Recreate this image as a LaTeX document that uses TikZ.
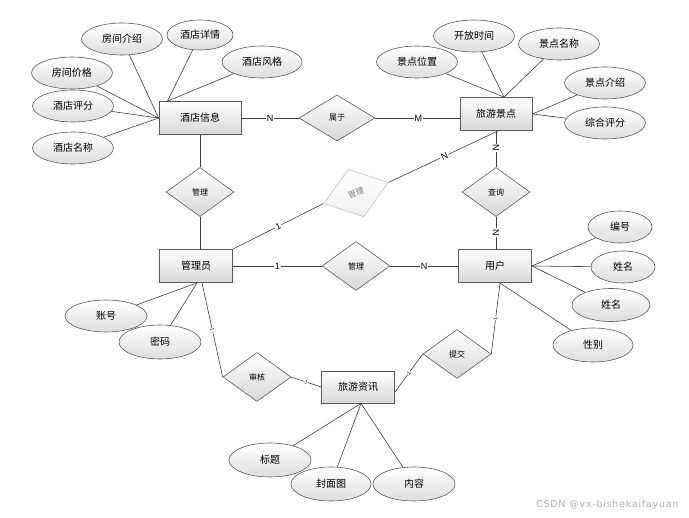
\documentclass[tikz,border=0pt]{standalone}
\usepackage{fontspec}
\setmainfont{Liberation Sans}
\newfontfamily\cjk{Noto Sans CJK SC}
\newfontfamily\markfont[LetterSpace=8]{DejaVu Sans}
\usepackage{xcolor}
\definecolor{Erline}{HTML}{404040}
\definecolor{Erborder}{HTML}{5A5A5A}
\definecolor{Erfill}{HTML}{D8D8D8}
\usetikzlibrary{shapes.geometric}
\tikzstyle{entity} = [
    rectangle,
    draw=Erborder,
    line width=0.9pt,
    top color=white,
    bottom color=Erfill,
    minimum width=73pt,
    minimum height=33pt,
    font=\cjk\fontsize{10}{10}\selectfont
]
\tikzstyle{attr} = [
    ellipse,
    draw=Erborder,
    line width=0.6pt,
    top color=white,
    bottom color=Erfill!85,
    minimum width=81pt,
    minimum height=32pt,
    inner sep=0pt,
    font=\cjk\fontsize{10}{10}\selectfont
]
\tikzstyle{relation} = [
    diamond,
    aspect=1.4,
    draw=Erborder,
    line width=0.6pt,
    top color=white,
    bottom color=Erfill,
    minimum width=68pt,
    minimum height=49pt,
    inner sep=0pt,
    font=\cjk\fontsize{8}{8}\selectfont
]
\tikzstyle{link} = [draw=Erline, line width=0.6pt]
\tikzstyle{card} = [fill=white, inner sep=1pt, sloped, font=\fontsize{9}{9}\selectfont]
\tikzstyle{tick} = [fill=white, inner sep=0.4pt, sloped, font=\fontsize{5}{5}\selectfont]

\begin{document}
\begin{tikzpicture}[x=1pt, y=-1pt]
    \useasboundingbox (0,0) rectangle (689,518);
    % Hotel
    \node[entity, minimum width=82pt] (hotel) at (200,118) {酒店信息};
    \node[attr] (roomintro) at (122,39) {房间介绍};
    \node[attr, minimum width=66pt, minimum height=30pt] (hoteldetail) at (200,35) {酒店详情};
    \node[attr, minimum width=80pt] (hotelstyle) at (262,62) {酒店风格};
    \node[attr] (roomprice) at (72,73) {房间价格};
    \node[attr] (hotelscore) at (73,106) {酒店评分};
    \node[attr] (hotelname) at (73,148) {酒店名称};
    \draw[link] (roomintro) -- (hotel.west);
    \draw[link] (roomprice) -- (hotel.west);
    \draw[link] (hotelscore) -- (hotel.west);
    \draw[link] (hotelname) -- (hotel.west);
    \draw[link] (hoteldetail) -- ([xshift=9pt]hotel.north west);
    \draw[link] (hotelstyle) -- ([xshift=9pt]hotel.north west);
    % Scenic spot
    \node[entity, minimum width=72pt] (scenic) at (496,114) {旅游景点};
    \node[attr] (opentime) at (474,36) {开放时间};
    \node[attr] (scenicname) at (559,44) {景点名称};
    \node[attr] (scenicpos) at (417,62) {景点位置};
    \node[attr] (scenicintro) at (605,83) {景点介绍};
    \node[attr] (totalscore) at (605,123) {综合评分};
    \draw[link] (opentime) -- ([xshift=8pt]scenic.north);
    \draw[link] (scenicname) -- ([xshift=8pt]scenic.north);
    \draw[link] (scenicpos) -- ([xshift=8pt]scenic.north);
    \draw[link] (scenicintro) -- (scenic.east);
    \draw[link] (totalscore) -- (scenic.east);
    % Hotel belongs to scenic spot
    \node[relation, minimum width=76pt, minimum height=46pt] (belong) at (337,118) {属于};
    \draw[link] (hotel.east) -- (belong.west) node[card, pos=0.5]{N};
    \draw[link] (belong.east) -- (scenic.west |- belong.east) node[card, pos=0.51]{M};
    % Administrator
    \node[entity] (admin) at (196,266) {管理员};
    \node[relation] (manageh) at (200,192) {管理};
    \draw[link] (hotel.south) -- (manageh.north);
    \draw[link] (manageh.south) -- (manageh.south |- admin.north);
    \node[attr, minimum width=82pt] (account) at (106,316) {账号};
    \node[attr, minimum width=82pt, minimum height=34pt] (password) at (160,342) {密码};
    \draw[link] ([xshift=1pt]admin.south) -- (account);
    \draw[link] ([xshift=1pt]admin.south) -- (password);
    % Administrator manages scenic spot
    \node[relation, draw=gray!45, bottom color=gray!12, text=gray, rotate=18,
        minimum height=50pt] (manages) at (356,193) {管理};
    \draw[link] (admin.north east) -- (manages.west) node[card, pos=0.5]{1};
    \draw[link] (manages.east) -- ([xshift=2pt]scenic.south) node[card, pos=0.51]{N};
    % User
    \node[entity] (user) at (495,266) {用户};
    \node[relation] (query) at (496,192) {查询};
    \draw[link] (scenic.south) -- (query.north) node[card, pos=0.47]{N};
    \draw[link] (query.south) -- (query.south |- user.north) node[card, pos=0.48]{N};
    \node[relation] (manageu) at (356,266) {管理};
    \draw[link] (admin.east) -- (manageu.west) node[card, pos=0.5]{1};
    \draw[link] (manageu.east) -- (user.west) node[card, pos=0.5]{N};
    \node[attr, minimum width=64pt] (userid) at (620,227) {编号};
    \node[attr, minimum width=64pt] (username) at (623,267) {姓名};
    \node[attr, minimum width=78pt, minimum height=33pt] (username2) at (611,305) {姓名};
    \node[attr, minimum width=80pt, minimum height=34pt] (gender) at (593,345) {性别};
    \draw[link] (user.east) -- (userid);
    \draw[link] (user.east) -- (username);
    \draw[link] (user.east) -- (username2);
    \draw[link] ([xshift=5pt]user.south) -- (gender);
    % Travel news
    \node[entity, minimum height=32pt] (info) at (358,387) {旅游资讯};
    \node[relation] (check) at (257,377) {审核};
    \node[relation] (submit) at (457,354) {提交};
    \draw[link] ([xshift=6pt]admin.south) -- (check.west) node[tick, pos=0.5]{1};
    \draw[link] (check.east) -- (info.west) node[tick, pos=0.5]{1};
    \draw[link] ([xshift=5pt]user.south) -- (submit.east) node[tick, pos=0.5]{1};
    \draw[link] (submit.west) -- ([yshift=-5pt]info.east) node[tick, pos=0.5]{1};
    \node[attr, minimum width=82pt, minimum height=34pt] (title) at (270,460) {标题};
    \node[attr, minimum width=80pt, minimum height=34pt] (cover) at (331,484) {封面图};
    \node[attr, minimum width=82pt, minimum height=34pt] (content) at (414,484) {内容};
    \draw[link] ([xshift=3pt]info.south) -- (title);
    \draw[link] ([xshift=3pt]info.south) -- (cover);
    \draw[link] ([xshift=3pt]info.south) -- (content);
    % Watermark
    \node[anchor=west, inner sep=0pt, text=gray!60, font=\markfont\fontsize{9.5}{9.5}\selectfont] (mark) at (536,505) {CSDN @vx-bishekaifayuan};
\end{tikzpicture}
\end{document}
